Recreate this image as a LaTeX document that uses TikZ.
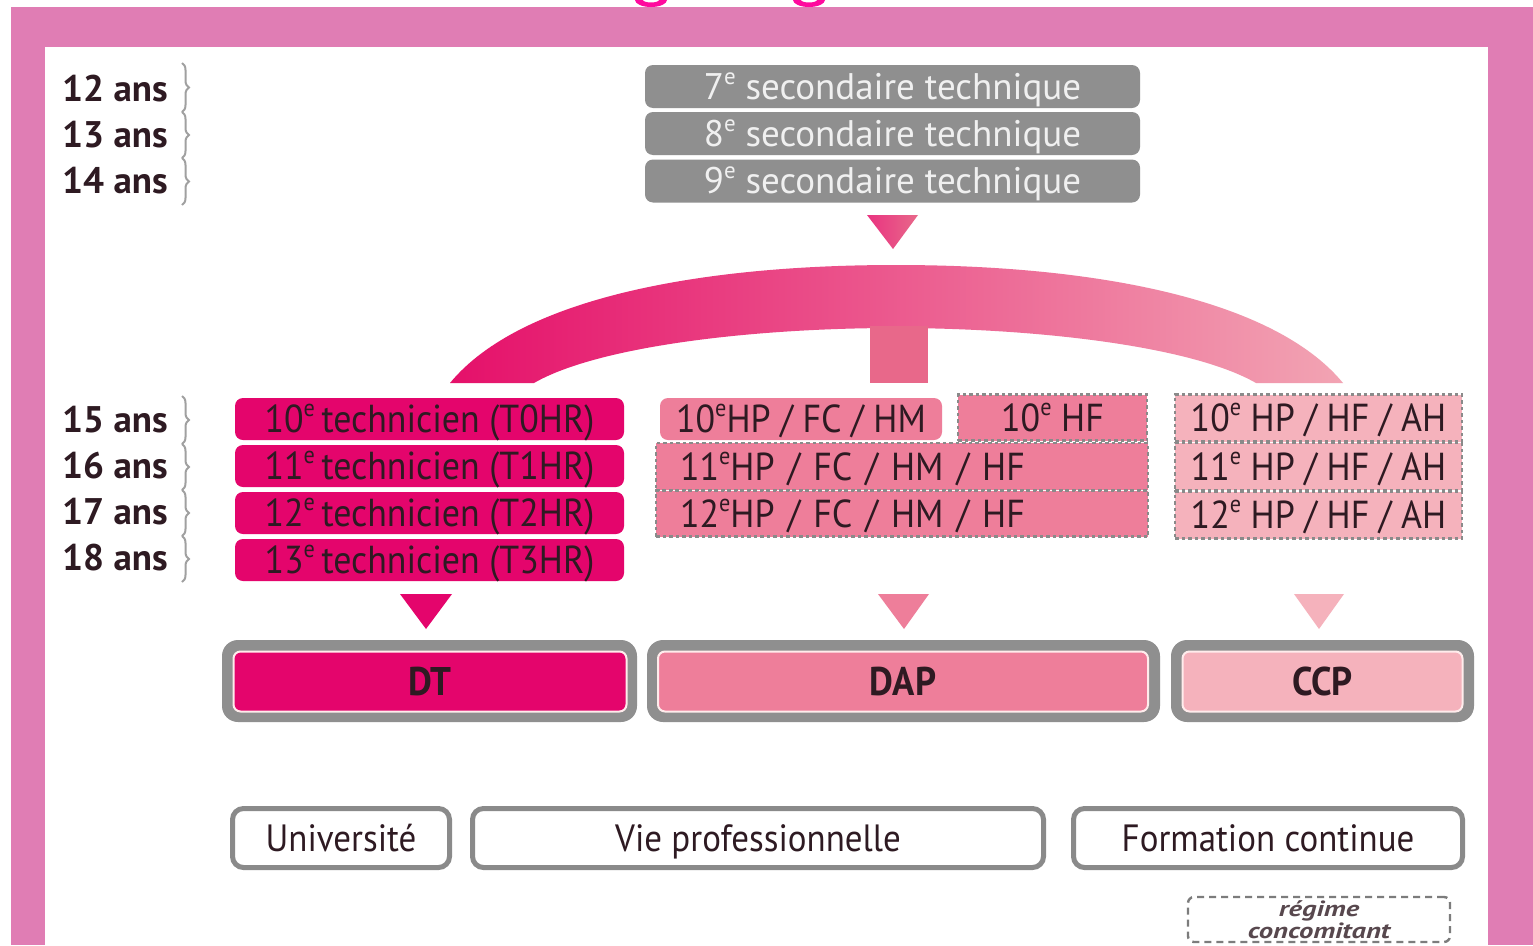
\documentclass[tikz,border=0pt]{standalone}
\usepackage{fontspec}
\usepackage{graphicx}
\setmainfont{PT Sans}
\newfontfamily\narrowfont[FakeStretch=0.92]{PT Sans}
\newfontfamily\widefont[FakeStretch=1.3]{PT Sans}
\usetikzlibrary{decorations.pathreplacing}

\definecolor{framepink}{HTML}{E07DB4}
\definecolor{titlemag}{HTML}{FF0A9E}
\definecolor{dtcol}{HTML}{E4056C}
\definecolor{dapcol}{HTML}{EE7E9A}
\definecolor{ccpcol}{HTML}{F5B2BC}
\definecolor{boxgray}{HTML}{8F8F8F}
\definecolor{dotgray}{HTML}{8A8A8A}
\definecolor{inktext}{HTML}{2E1A22}
\definecolor{bracegray}{HTML}{A0A0A0}
\definecolor{arcleft}{HTML}{E5106A}
\definecolor{arcright}{HTML}{F2A4B3}
\definecolor{arcmid}{HTML}{E8688A}

% superscript "e" of the ordinals
\newcommand\supe{\raisebox{0.40em}{\scalebox{0.62}{e}}}

\tikzset{
  agelabel/.style={anchor=west, inner sep=0, text=inktext,
    font=\bfseries\fontsize{37}{40}\selectfont},
  agebrace/.style={draw=bracegray, line width=2, decorate,
    decoration={brace, amplitude=7}},
  graybox/.style={fill=boxgray, rounded corners=8, text=white!94!black,
    minimum width=495, minimum height=43, inner sep=0,
    text height=25pt, text depth=0pt,
    font=\fontsize{37}{40}\selectfont},
  dtbox/.style={fill=dtcol, rounded corners=8, text=inktext,
    minimum width=389, minimum height=42, inner sep=0,
    text height=26pt, text depth=0pt,
    font=\narrowfont\fontsize{39}{42}\selectfont},
  dotborder/.style={draw=dotgray, line width=2.8, dash pattern=on 3.5 off 3},
  dapbox/.style={fill=dapcol, text=inktext, inner sep=0,
    text height=27pt, text depth=0pt,
    font=\narrowfont\fontsize{39}{42}\selectfont},
  ccpbox/.style={fill=ccpcol, text=inktext, inner sep=0, dotborder,
    minimum width=287, minimum height=47,
    text height=27pt, text depth=0pt,
    font=\narrowfont\fontsize{39}{42}\selectfont},
  diplout/.style={fill=boxgray, rounded corners=16, minimum height=82, inner sep=0},
  diplin/.style={draw=white!70!pink, line width=2, rounded corners=7,
    minimum height=60, inner sep=0, text=inktext,
    text height=28pt, text depth=0pt,
    font=\bfseries\narrowfont\fontsize{40}{42}\selectfont},
  outcome/.style={draw=dotgray, line width=5, fill=white, rounded corners=11,
    minimum height=59, inner sep=0, text=inktext,
    text height=26pt, text depth=0pt,
    font=\narrowfont\fontsize{38}{42}\selectfont},
  notebox/.style={draw=dotgray!90!black, line width=2.4, dash pattern=on 7 off 5,
    rounded corners=6, minimum width=262, minimum height=45, inner sep=0,
    align=center, text=inktext!80!white,
    font=\widefont\itshape\bfseries\fontsize{22}{22}\selectfont},
}

\begin{document}
\begin{tikzpicture}[x=1pt, y=-1pt]
\useasboundingbox (0,0) rectangle (1533,945);

% page frame
\fill[framepink] (11,7) rectangle (1533,945);
\fill[white] (45,47) rectangle (1488,945);

% lower loops of the title letters above the frame
\fill[titlemag, even odd rule] (651,0) ellipse [x radius=16, y radius=7]
                               (651,0) ellipse [x radius=8, y radius=2.5];
\fill[titlemag, even odd rule] (809,0) ellipse [x radius=16, y radius=7]
                               (809,0) ellipse [x radius=8, y radius=2.5];

% ages
\node[agelabel] (a12) at (62,89)  {12 ans};
\node[agelabel] (a13) at (62,135) {13 ans};
\node[agelabel] (a14) at (62,181) {14 ans};
\node[agelabel] (a15) at (62,420) {15 ans};
\node[agelabel] (a16) at (62,466) {16 ans};
\node[agelabel] (a17) at (62,512) {17 ans};
\node[agelabel] (a18) at (62,558) {18 ans};
\foreach \ya/\yb in {63/112, 112/158, 158/205, 396/444, 444/490, 490/536, 536/582}
  \draw[agebrace] (182,\ya) -- (182,\yb);

% lower secondary years
\node[graybox] (s7) at (892.5,86.5)  {7\supe\ secondaire technique};
\node[graybox] (s8) at (892.5,133.5) {8\supe\ secondaire technique};
\node[graybox] (s9) at (892.5,181)   {9\supe\ secondaire technique};

% arrow into the branching arc
\shade[left color=arcleft!85!white, right color=arcmid]
  (867,215) -- (918,215) -- (893,249) -- cycle;

% branching arc
\shade[left color=arcleft, right color=arcright]
  (450,383) .. controls (520,298) and (700,265) .. (896,265)
            .. controls (1092,265) and (1273,298) .. (1343,383)
  -- (1256,383) .. controls (1190,345) and (1030,328) .. (895,328)
            .. controls (760,328) and (600,345) .. (534,383) -- cycle;
\fill[arcmid] (870,326) rectangle (928,383);

% technician track
\node[dtbox] (t10) at (429.5,419) {10\supe\,technicien (T0HR)};
\node[dtbox] (t11) at (429.5,466) {11\supe\,technicien (T1HR)};
\node[dtbox] (t12) at (429.5,513) {12\supe\,technicien (T2HR)};
\node[dtbox] (t13) at (429.5,560) {13\supe\,technicien (T3HR)};

% professional aptitude track
\node[dapbox, rounded corners=8, minimum width=282, minimum height=42]
  (p10) at (801,419) {10\supe HP / FC / HM};
\node[dapbox, dotborder, minimum width=189, minimum height=46]
  (p10hf) at (1052.5,417.5) {10\supe\ HF};
\node[dapbox, dotborder, minimum width=492, minimum height=47,
      text width=444, align=left, inner xsep=24]
  (p11) at (902,466.5) {11\supe HP / FC / HM / HF};
\node[dapbox, dotborder, minimum width=492, minimum height=46,
      text width=444, align=left, inner xsep=24]
  (p12) at (902,513.5) {12\supe HP / FC / HM / HF};

% capacity track
\node[ccpbox] (c10) at (1318.5,418)   {10\supe\ HP / HF / AH};
\node[ccpbox] (c11) at (1318.5,466.5) {11\supe\ HP / HF / AH};
\node[ccpbox] (c12) at (1318.5,515)   {12\supe\ HP / HF / AH};

% arrows to the diplomas
\fill[dtcol]  (400,594) -- (452,594) -- (426,629) -- cycle;
\fill[dapcol] (878,594) -- (929,594) -- (904,629) -- cycle;
\fill[ccpcol] (1294,594) -- (1344,594) -- (1319,629) -- cycle;

% diplomas
\node[diplout, minimum width=415] (dtf)  at (429.5,681) {};
\node[diplout, minimum width=513] (dapf) at (903.5,681) {};
\node[diplout, minimum width=303] (ccpf) at (1322.5,681) {};
\node[diplin, fill=dtcol,  minimum width=393] (dt)  at (430,681.5)  {DT};
\node[diplin, fill=dapcol, minimum width=490] (dap) at (903,681.5)  {DAP};
\node[diplin, fill=ccpcol, minimum width=280] (ccp) at (1322.5,681.5) {CCP};

% outcomes
\node[outcome, minimum width=217] (uni) at (341,838)  {Université};
\node[outcome, minimum width=571] (vie) at (758,838)  {Vie professionnelle};
\node[outcome, minimum width=389] (fc)  at (1268,838) {Formation continue};

% legend
\node[notebox] (reg) at (1319,919.5) {régime\\concomitant};
\end{tikzpicture}
\end{document}
